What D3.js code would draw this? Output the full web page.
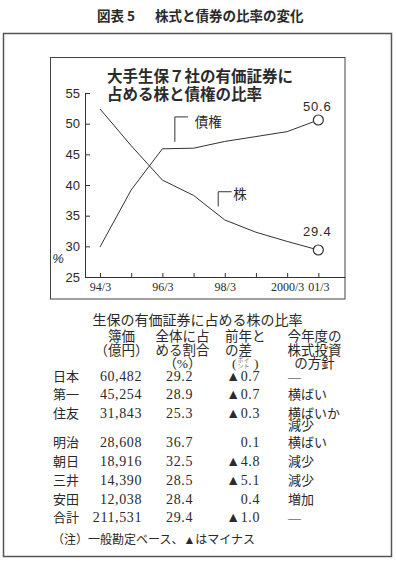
<!DOCTYPE html>
<html>
<head>
<meta charset="utf-8">
<script src="https://cdn.jsdelivr.net/npm/d3@7"></script>
<style>
  html, body { margin: 0; padding: 0; background: #fff; }
  svg { display: block; }
  .jp { font-family: "Noto Sans CJK JP", sans-serif; }
  .mincho { font-family: "Liberation Serif", "Noto Sans CJK JP", serif; }
</style>
</head>
<body>
<svg id="chart" width="396" height="565"></svg>
<script>
// periods (March of each fiscal year) and the labels shown under the axis
const periods = ["94/3", "95/3", "96/3", "97/3", "98/3", "99/3", "2000/3", "01/3"];
const tickLabels = ["94/3", "", "96/3", "", "98/3", "", "2000/3", "01/3"];
const yTicks = [25, 30, 35, 40, 45, 50, 55];

// share of securities (%)
const bonds = [29.9, 39.2, 45.9, 46.0, 47.1, 47.9, 48.7, 50.6];
const stocks = [52.4, 46.4, 40.8, 38.3, 34.3, 32.3, 30.8, 29.4];

// table
const companies = ["日本", "第一", "住友", "明治", "朝日", "三井", "安田", "合計"];
const bookValues = ["60,482", "45,254", "31,843", "28,608", "18,916", "14,390", "12,038", "211,531"];
const shares = ["29.2", "28.9", "25.3", "36.7", "32.5", "28.5", "28.4", "29.4"];
const diffs = ["▲0.7", "▲0.7", "▲0.3", "0.1", "▲4.8", "▲5.1", "0.4", "▲1.0"];
const policies = ["—", "横ばい", "横ばいか\n減少", "横ばい", "減少", "減少", "増加", "—"];

const svg = d3.select('#chart');
const ink = '#2a2a2a';

// frames
svg.append('rect')
  .attr('x', 3.5).attr('y', 33.5).attr('width', 388).attr('height', 523)
  .attr('fill', 'none').attr('stroke', '#555').attr('stroke-width', 1.5);
svg.append('rect')
  .attr('x', 50.5).attr('y', 57.5).attr('width', 294.5).attr('height', 241.5)
  .attr('fill', 'none').attr('stroke', '#444').attr('stroke-width', 1);

// page header
svg.append('text').attr('class', 'jp')
  .attr('x', 97).attr('y', 15).attr('dominant-baseline', 'central')
  .attr('font-size', 13.5).attr('font-weight', 700).attr('fill', ink)
  .text('図表 5');
svg.append('text').attr('class', 'jp')
  .attr('x', 155).attr('y', 15).attr('dominant-baseline', 'central')
  .attr('font-size', 13.5).attr('font-weight', 700).attr('fill', ink)
  .text('株式と債券の比率の変化');

// scales
const x = d3.scaleLinear().domain([-0.481, 7.855]).range([85, 345]);
const y = d3.scaleLinear().domain([25, 55]).range([277, 93]);

// axes
const yAxis = svg.append('g')
  .attr('transform', 'translate(85,0)')
  .call(d3.axisLeft(y).tickValues(yTicks).tickSizeInner(-5).tickSizeOuter(0).tickPadding(5));
yAxis.selectAll('text')
  .attr('font-family', '"Liberation Sans", Arial, sans-serif')
  .attr('font-size', 13).attr('fill', ink);

const xAxis = svg.append('g')
  .attr('transform', 'translate(0,277)')
  .call(d3.axisBottom(x).tickValues(d3.range(periods.length))
    .tickFormat(i => tickLabels[i]).tickSizeInner(-4).tickSizeOuter(0).tickPadding(5));
xAxis.selectAll('text')
  .attr('font-family', '"Liberation Serif", serif')
  .attr('font-size', 12).attr('fill', ink);

svg.selectAll('.domain, .tick line').attr('stroke', '#333');

svg.append('text')
  .attr('x', 58).attr('y', 258).attr('text-anchor', 'middle').attr('dominant-baseline', 'central')
  .attr('font-family', '"Liberation Sans", Arial, sans-serif').attr('font-style', 'italic')
  .attr('font-size', 13).attr('fill', ink)
  .text('%');

// chart title
['大手生保７社の有価証券に', '占める株と債権の比率'].forEach((t, i) => {
  svg.append('text').attr('class', 'jp')
    .attr('x', 107).attr('y', 75 + i * 18).attr('dominant-baseline', 'central')
    .attr('font-size', 15.5).attr('font-weight', 700).attr('fill', ink)
    .text(t);
});

// lines
const line = d3.line().x((d, i) => x(i)).y(d => y(d));
[bonds, stocks].forEach(series => {
  svg.append('path')
    .datum(series)
    .attr('d', line)
    .attr('fill', 'none')
    .attr('stroke', '#333')
    .attr('stroke-width', 1);
});

// end markers + values
const last = periods.length - 1;
[[bonds, -13.5], [stocks, -19]].forEach(([series, off]) => {
  svg.append('circle')
    .attr('cx', x(last)).attr('cy', y(series[last])).attr('r', 5)
    .attr('fill', '#fff').attr('stroke', '#333').attr('stroke-width', 1.2);
  svg.append('text')
    .attr('x', x(last) - 1).attr('y', y(series[last]) + off)
    .attr('text-anchor', 'middle').attr('dominant-baseline', 'central')
    .attr('font-family', '"Liberation Sans", Arial, sans-serif')
    .attr('font-size', 13).attr('letter-spacing', 0.8).attr('fill', ink)
    .text(series[last].toFixed(1));
});

// callouts
function callout(xi, v0, v1, xi2, label, lx, ly) {
  svg.append('path')
    .attr('d', `M${x(xi)},${y(v0)}V${y(v1)}H${x(xi2)}`)
    .attr('fill', 'none').attr('stroke', '#333').attr('stroke-width', 1);
  svg.append('text').attr('class', 'jp')
    .attr('x', x(lx)).attr('y', y(ly)).attr('dominant-baseline', 'central')
    .attr('font-size', 13.5).attr('fill', ink)
    .text(label);
}
callout(2.4, 47.05, 51.1, 2.82, '債権', 3.04, 50.5);
callout(3.79, 36.5, 38.9, 4.22, '株', 4.27, 38.7);

// table title
svg.append('text').attr('class', 'mincho')
  .attr('x', 197.5).attr('y', 320).attr('text-anchor', 'middle').attr('dominant-baseline', 'central')
  .attr('font-size', 14).attr('fill', ink)
  .text('生保の有価証券に占める株の比率');

// table header
const head = svg.append('g').attr('class', 'mincho').attr('font-size', 13.5).attr('fill', ink);
function ht(xp, yp, t, anchor) {
  head.append('text').attr('x', xp).attr('y', yp)
    .attr('text-anchor', anchor || 'middle').attr('dominant-baseline', 'central').text(t);
}
ht(121.5, 336.5, '簿価');
ht(121.5, 350, '（億円）');
ht(182.5, 336.5, '全体に占');
ht(182.5, 350, 'める割合');
ht(182.5, 363, '（%）');
ht(225, 336.5, '前年と', 'start');
ht(225, 350, 'の差', 'start');
ht(232, 363, '(', 'start');
ht(254, 363, ')', 'start');
head.append('text').attr('x', 243.5).attr('y', 360).attr('text-anchor', 'middle')
  .attr('dominant-baseline', 'central').attr('font-size', 6).attr('fill', '#777').text('ポイ');
head.append('text').attr('x', 243.5).attr('y', 366).attr('text-anchor', 'middle')
  .attr('dominant-baseline', 'central').attr('font-size', 6).attr('fill', '#777').text('ント');
ht(314.5, 336.5, '今年度の');
ht(314.5, 350, '株式投資');
ht(314.5, 363, 'の方針');

// table rows
let rowY = 376;
const body = svg.append('g').attr('class', 'mincho').attr('fill', ink);
companies.forEach((c, i) => {
  const cells = [
    [53, 'start', c, 13],
    [142, 'end', bookValues[i], 14],
    [193, 'end', shares[i], 14],
    [260, 'end', diffs[i], 14]
  ];
  cells.forEach(([xp, anchor, t, fs]) => {
    body.append('text').attr('x', xp).attr('y', rowY)
      .attr('text-anchor', anchor).attr('dominant-baseline', 'central')
      .attr('font-size', fs).attr('letter-spacing', fs === 14 ? 0.6 : 0)
      .text(t);
  });
  const lines = policies[i].split('\n');
  lines.forEach((t, j) => {
    body.append('text').attr('x', 288).attr('y', rowY + j * 11.6)
      .attr('dominant-baseline', 'central').attr('font-size', 13)
      .text(t);
  });
  rowY += 18.8 + (lines.length - 1) * 10.3;
});

// note
svg.append('text').attr('class', 'mincho')
  .attr('x', 52).attr('y', 540).attr('dominant-baseline', 'central')
  .attr('font-size', 12).attr('fill', ink)
  .text('（注）一般勘定ベース、▲はマイナス');
</script>
</body>
</html>
